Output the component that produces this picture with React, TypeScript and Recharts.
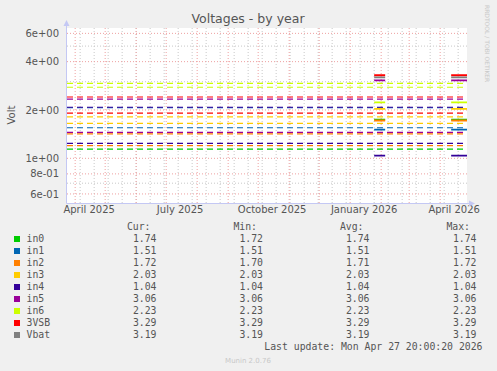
import { LineChart, Line, XAxis, YAxis, ReferenceLine } from 'recharts';

const START = Date.UTC(2025, 2, 23, 20);
const END = Date.UTC(2026, 3, 27, 20);
const DAY = 86400000;

// fields, colours and legend values (munin "sensors" volts)
const fieldNames = ['in0', 'in1', 'in2', 'in3', 'in4', 'in5', 'in6', '3VSB', 'Vbat'];
const fieldColors = ['#00cc00', '#0066b3', '#ff8000', '#ffcc00', '#330099', '#990099', '#ccff00', '#ff0000', '#808080'];
const curValues = [1.74, 1.51, 1.72, 2.03, 1.04, 3.06, 2.23, 3.29, 3.19];
const minValues = [1.72, 1.51, 1.70, 2.03, 1.04, 3.06, 2.23, 3.29, 3.19];
const avgValues = [1.74, 1.51, 1.71, 2.03, 1.04, 3.06, 2.23, 3.29, 3.19];
const maxValues = [1.74, 1.51, 1.72, 2.03, 1.04, 3.06, 2.23, 3.29, 3.19];

// the two periods where samples exist
const periodStarts = ['2026-01-25', '2026-04-12'];
const periodEnds = ['2026-02-05', '2026-04-27T20:00Z'];

// warning / critical limits, drawn dashed
const limitFields = ['in6', 'in6', '3VSB', 'in5', 'in1', 'in4', '3VSB', 'in3', 'in3', 'in1', 'in5', 'in2', 'in4', 'in2', 'in0'];
const limitValues = [2.93, 2.77, 2.41, 2.34, 2.065, 2.08, 1.91, 1.81, 1.65, 1.55, 1.45, 1.42, 1.24, 1.2, 1.14];

const tickDates = ['2025-04-15', '2025-07-15', '2025-10-15', '2026-01-15', '2026-04-15'];
const tickLabels = ['April 2025', 'July 2025', 'October 2025', 'January 2026', 'April 2026'];
const yTicks = [0.6, 0.8, 1, 2, 4, 6];
const yMinorTicks = [0.7, 3, 5];

const tickTimes = tickDates.map(d => Date.parse(d));

const monthLines: number[] = [];
for (let m = 0; m < 13; m++) monthLines.push(Date.UTC(2025, 3 + m, 1));
const weekLines: number[] = [];
for (let t = Date.UTC(2025, 3, 6); t < END; t += 14 * DAY) weekLines.push(t);

const fmtExp = (v: number) => {
  const [m, e] = v.toExponential(0).split('e');
  const n = Math.abs(Number(e));
  return `${m}e${e[0]}${String(n).padStart(2, '0')}`;
};

const colorOf = (name: string) => fieldColors[fieldNames.indexOf(name)];

const seriesData = (v: number) => {
  const s = periodStarts.map(d => Date.parse(d));
  const e = periodEnds.map(d => Date.parse(d));
  return [
    { t: s[0], v },
    { t: e[0], v },
    { t: e[0] + DAY, v: null },
    { t: s[1], v },
    { t: e[1], v },
  ];
};

const mono = "'DejaVu Sans Mono', monospace";
const sans = "'DejaVu Sans', sans-serif";
const TEXT = '#555555';

function Txt({ x, y, right, children, size = 9.8, color = TEXT, family = mono }: any) {
  const style: any = {
    position: 'absolute',
    top: y - 6,
    height: 12,
    lineHeight: '12px',
    fontSize: size,
    fontFamily: family,
    color,
    whiteSpace: 'pre',
  };
  if (right !== undefined) style.right = 497 - right;
  else style.left = x;
  return <div style={style}>{children}</div>;
}

export default function App() {
  const rowY = (i: number) => 239.3 + i * 12;
  return (
    <div style={{ position: 'fixed', left: 0, top: 0, width: 497, height: 371, background: '#f0f0f0', overflow: 'hidden' }}>
      <div style={{ position: 'absolute', left: 67, top: 28, width: 400, height: 175, background: '#ffffff' }} />
      <div style={{ position: 'absolute', left: 0, top: 0 }}>
        <LineChart width={497} height={371} margin={{ top: 28, right: 30, bottom: 148, left: 7 }}>
          <XAxis
            type="number"
            dataKey="t"
            domain={[START, END]}
            allowDataOverflow
            ticks={tickTimes}
            tickFormatter={v => tickLabels[tickTimes.indexOf(v)]}
            axisLine={false}
            tickLine={false}
            tickSize={3}
            tickMargin={0}
            height={20}
            interval={0}
            tick={{ fill: TEXT, fontSize: 10, fontFamily: sans }}
          />
          <YAxis
            type="number"
            scale="log"
            domain={[0.527, 6.48]}
            allowDataOverflow
            ticks={yTicks}
            tickFormatter={fmtExp}
            axisLine={false}
            tickLine={false}
            width={60}
            interval={0}
            tick={{ fill: TEXT, fontSize: 10, fontFamily: sans }}
          />
          {weekLines.map(t => (
            <ReferenceLine key={'w' + t} x={t} stroke="#c8c8c8" strokeDasharray="1 2" />
          ))}
          {yMinorTicks.map(v => (
            <ReferenceLine key={'ym' + v} y={v} stroke="#c8c8c8" strokeDasharray="1 2" />
          ))}
          {monthLines.map(t => (
            <ReferenceLine key={'m' + t} x={t} stroke="#eea0a0" strokeDasharray="1 2" />
          ))}
          {yTicks.map(v => (
            <ReferenceLine key={'yM' + v} y={v} stroke="#eea0a0" strokeDasharray="1 2" />
          ))}
          {limitValues.map((v, i) => (
            <Line
              key={'l' + i}
              data={[{ t: START, v }, { t: END, v }]}
              dataKey="v"
              type="linear"
              stroke={colorOf(limitFields[i])}
              strokeWidth={1.2}
              strokeDasharray="6 4"
              dot={false}
              activeDot={false}
              isAnimationActive={false}
            />
          ))}
          {fieldNames.map((name, i) => (
            <Line
              key={name}
              name={name}
              data={seriesData(curValues[i])}
              dataKey="v"
              type="linear"
              stroke={fieldColors[i]}
              strokeWidth={1.8}
              dot={false}
              activeDot={false}
              connectNulls={false}
              isAnimationActive={false}
            />
          ))}
        </LineChart>
      </div>

      {/* axes with arrows */}
      <svg width={497} height={371} style={{ position: 'absolute', left: 0, top: 0, pointerEvents: 'none' }}>
        <line x1={66.5} y1={203.5} x2={66.5} y2={24} stroke="#c4c8f4" strokeWidth={1} />
        <polygon points="66.5,20 63.5,26 69.5,26" fill="#c4c8f4" />
        <line x1={66.5} y1={203.5} x2={471} y2={203.5} stroke="#c4c8f4" strokeWidth={1} />
        <polygon points="475,203.5 469,200.5 469,206.5" fill="#c4c8f4" />
        <text x={248} y={23} textAnchor="middle" fontFamily={sans} fontSize={12.5} fill={TEXT}>
          Voltages - by year
        </text>
        <text x={11} y={115} textAnchor="middle" dominantBaseline="central" fontFamily={sans} fontSize={10} fill={TEXT} transform="rotate(-90 11 115)">
          Volt
        </text>
        <text x={485} y={5} fontFamily={sans} fontSize={6} fill="#c8c8c8" transform="rotate(90 485 5)">
          RRDTOOL / TOBI OETIKER
        </text>
        <text x={248} y={363} textAnchor="middle" fontFamily={sans} fontSize={7} fill="#c8c8c8">
          Munin 2.0.76
        </text>
      </svg>

      {/* legend */}
      <Txt right={150.5} y={226.7}>Cur:</Txt>
      <Txt right={257} y={226.7}>Min:</Txt>
      <Txt right={363.5} y={226.7}>Avg:</Txt>
      <Txt right={470} y={226.7}>Max:</Txt>
      {fieldNames.map((name, i) => (
        <div key={name}>
          <div style={{ position: 'absolute', left: 14, top: rowY(i) - 3, width: 6, height: 6, background: fieldColors[i] }} />
          <Txt x={26.5} y={rowY(i)}>{name}</Txt>
          <Txt right={156.5} y={rowY(i)}>{curValues[i].toFixed(2)}</Txt>
          <Txt right={263} y={rowY(i)}>{minValues[i].toFixed(2)}</Txt>
          <Txt right={369.5} y={rowY(i)}>{avgValues[i].toFixed(2)}</Txt>
          <Txt right={476.5} y={rowY(i)}>{maxValues[i].toFixed(2)}</Txt>
        </div>
      ))}
      <Txt right={482.5} y={347}>Last update: Mon Apr 27 20:00:20 2026</Txt>
    </div>
  );
}
